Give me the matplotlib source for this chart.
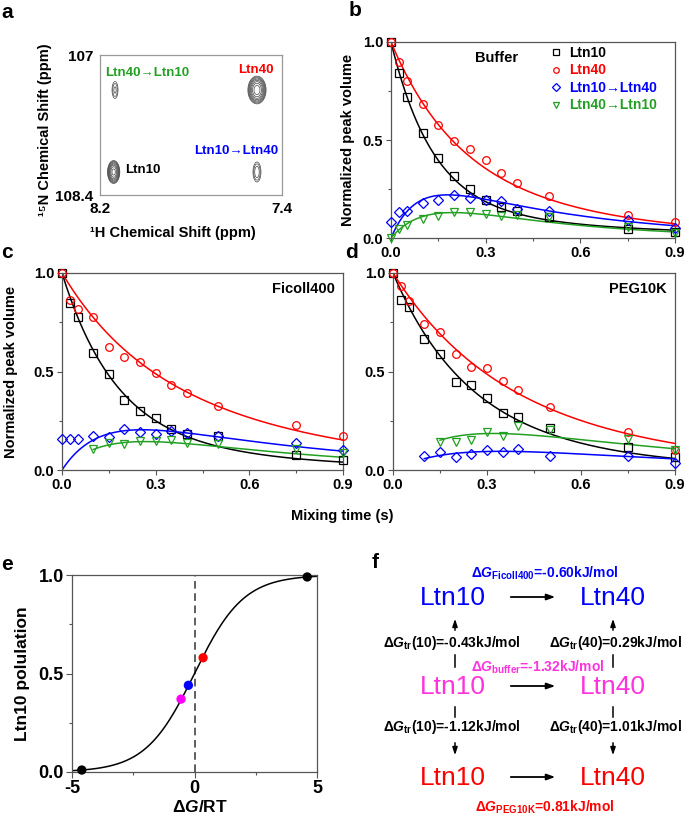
import numpy as np
import matplotlib
matplotlib.use('Agg')
import matplotlib.pyplot as plt
from matplotlib.lines import Line2D
from matplotlib.ticker import MultipleLocator

plt.rcParams['font.family'] = ['Liberation Sans', 'DejaVu Sans']
plt.rcParams['font.weight'] = 'bold'
plt.rcParams['mathtext.fontset'] = 'custom'
plt.rcParams['mathtext.rm'] = 'Liberation Sans:bold'
plt.rcParams['mathtext.it'] = 'Liberation Sans:italic:bold'
plt.rcParams['mathtext.bf'] = 'Liberation Sans:bold'
plt.rcParams['axes.edgecolor'] = '#555555'
plt.rcParams['axes.linewidth'] = 0.9

# ---- panel a: peak positions (1H ppm, 15N ppm), widths, heights
peak_h = [8.134, 7.51, 8.14, 7.51]
peak_n = [107.35, 107.35, 108.17, 108.17]
peak_sig_h = [0.0088, 0.0147, 0.0101, 0.0105]
peak_sig_n = [0.057, 0.051, 0.043, 0.060]
peak_amp = [0.30, 4.0, 3.5, 0.40]

# ---- panels b-d: mixing times and normalized peak volumes
t_mix = [0, 0.025, 0.05, 0.1, 0.15, 0.2, 0.25, 0.3, 0.35, 0.4, 0.5, 0.75, 0.9]

buf_ltn10 = [1.0, 0.84, 0.72, 0.537, 0.41, 0.317, 0.25, 0.195, 0.16, 0.14, 0.105, 0.046, 0.03]
buf_ltn40 = [1.0, 0.90, 0.80, 0.686, 0.576, 0.497, 0.454, 0.40, 0.334, 0.28, 0.212, 0.119, 0.08]
buf_10to40 = [0.08, 0.132, 0.14, 0.178, 0.195, 0.22, 0.203, 0.195, 0.19, 0.148, 0.14, 0.093, 0.05]
buf_40to10 = [0.0, 0.046, 0.066, 0.097, 0.11, 0.132, 0.135, 0.122, 0.114, 0.115, 0.107, 0.054, 0.025]

fic_ltn10 = [1.0, 0.847, 0.776, 0.593, 0.488, 0.353, 0.302, 0.266, 0.208, 0.181, 0.175, 0.076, 0.05]
fic_ltn40 = [1.0, 0.861, 0.817, 0.775, 0.624, 0.576, 0.547, 0.49, 0.432, 0.39, 0.325, 0.229, 0.173]
fic_10to40 = [0.155, 0.158, 0.155, 0.173, 0.17, 0.207, 0.195, 0.183, 0.2, 0.186, 0.173, 0.136, 0.10]
fic_40to10 = [0.107, 0.139, 0.132, 0.147, 0.147, 0.153, 0.139, 0.13, 0.105, 0.085]  # from 0.1 s

peg_ltn10 = [1.0, 0.865, 0.828, 0.667, 0.588, 0.446, 0.432, 0.367, 0.289, 0.267, 0.215, 0.118, 0.068]
peg_ltn40 = [1.0, 0.932, 0.86, 0.743, 0.703, 0.588, 0.524, 0.517, 0.451, 0.405, 0.321, 0.191, 0.101]
peg_10to40 = [0.073, 0.091, 0.068, 0.081, 0.101, 0.091, 0.106, 0.073, 0.073, 0.037]  # from 0.1 s
peg_40to10 = [0.144, 0.144, 0.152, 0.194, 0.172, 0.225, 0.201, 0.155, 0.101]  # from 0.15 s

# fitted exchange curves: auto = a*exp(-k1 t)+(1-a)*exp(-k2 t); cross = c*(exp(-k1 t)-exp(-k2 t))
buf_fit = [[0.85, 7.5, 1.5], [0.5, 5.5, 2.2], [0.378, 2.0, 12.0], [0.294, 2.5, 9.0]]
fic_fit = [[0.78, 6.0, 2.0], [0.28, 5.0, 1.75], [0.37, 1.5, 8.0], [0.30, 1.7, 7.0]]
peg_fit = [[0.5, 5.0, 2.5], [0.3, 4.0, 1.9], [0.227, 1.5, 5.0], [0.369, 1.35, 6.0]]
fit_start = {'buffer': [0, 0, 0, 0], 'ficoll': [0, 0, 0, 0.1], 'peg': [0, 0, 0.1, 0.15]}

# ---- panel e
dg_rt = [-4.6, -0.55, -0.25, 0.35, 4.6]
ltn10_pop = [0.01, 0.37, 0.44, 0.58, 0.99]
e_colors = ['black', '#ff00ff', '#0000ff', '#ff0000', 'black']

# ---- panel f
dg_main = ['-0.60', '-1.32', '0.81']
dg_tr10 = ['-0.43', '-1.12']
dg_tr40 = ['0.29', '1.01']

RED = '#ff0000'
BLUE = '#0000ff'
GREEN = '#22a022'
MAGENTA = '#ff33dd'

W, H = 685, 815
fig = plt.figure(figsize=(W / 100, H / 100), dpi=100)


def px_axes(l, t, r, b):
    return fig.add_axes([l / W, 1 - b / H, (r - l) / W, (b - t) / H])


def ftext(x, y, s, **kw):
    fig.text(x / W, 1 - y / H, s, **kw)


# panel letters
for letter, (x, y) in zip('abcdef', [(7, 12), (355, 11), (7, 252), (352, 252), (7, 565), (375, 563)]):
    ftext(x, y, letter, fontsize=15, fontweight='bold', ha='center', va='center')

# ---------------- panel a
ax = px_axes(100, 55, 282, 195)
hh = np.linspace(7.4, 8.2, 500)
nn = np.linspace(107, 108.4, 500)
HH, NN = np.meshgrid(hh, nn)
Z = np.zeros_like(HH)
for h0, n0, sh, sn, a0 in zip(peak_h, peak_n, peak_sig_h, peak_sig_n, peak_amp):
    Z += a0 * np.exp(-0.5 * ((HH - h0) / sh) ** 2 - 0.5 * ((NN - n0) / sn) ** 2)
levels = 0.1 * 1.6 ** np.arange(8)
ax.contour(HH, NN, Z, levels=levels, colors='#444444', linewidths=0.5)
ax.set_xlim(8.2, 7.4)
ax.set_ylim(108.4, 107)
ax.set_xticks([8.2, 7.4])
ax.set_xticklabels(['8.2', '7.4'])
ax.set_yticks([107, 108.4])
ax.set_yticklabels(['107', '108.4'])
ax.tick_params(length=0, labelsize=11, pad=5)
for sp in ax.spines.values():
    sp.set_color('#999999')
ftext(147, 73, 'Ltn40→Ltn10', color=GREEN, fontsize=9.5, ha='center', va='center')
ftext(256, 70, 'Ltn40', color=RED, fontsize=9.5, ha='center', va='center')
ftext(236, 151, 'Ltn10→Ltn40', color=BLUE, fontsize=9.5, ha='center', va='center')
ftext(125, 170, 'Ltn10', color='black', fontsize=9.5, ha='left', va='center')
ftext(45, 130, '¹⁵N Chemical Shift (ppm)', fontsize=10.5, rotation=90, ha='center', va='center')
ftext(173, 233, '¹H Chemical Shift (ppm)', fontsize=10.5, ha='center', va='center')


# ---------------- panels b-d
def exch_panel(ax, data, fits, starts, ylabel=True):
    t = np.array(t_mix)
    styles = [('s', 'black', 5.5), ('o', RED, 5.5), ('D', BLUE, 5.0), ('v', GREEN, 6.0)]
    for i, (vals, p, t0, (mk, col, ms)) in enumerate(zip(data, fits, starts, styles)):
        ft = np.linspace(t0, 0.9, 200)
        if i < 2:
            fy = p[0] * np.exp(-p[1] * ft) + (1 - p[0]) * np.exp(-p[2] * ft)
        else:
            fy = p[0] * (np.exp(-p[1] * ft) - np.exp(-p[2] * ft))
        ax.plot(ft, fy, color=col, lw=1.1, zorder=2)
        tt = t[len(t) - len(vals):]
        ax.plot(tt, vals, ls='none', marker=mk, ms=ms, mfc='none', mec=col, mew=0.9,
                clip_on=False, zorder=3)
    ax.set_xlim(0, 0.9)
    ax.set_ylim(0, 1.0)
    ax.xaxis.set_minor_locator(MultipleLocator(0.15))
    ax.yaxis.set_minor_locator(MultipleLocator(0.25))
    ax.set_xticks([0, 0.3, 0.6, 0.9])
    ax.set_xticklabels(['0.0', '0.3', '0.6', '0.9'])
    ax.set_yticks([0, 0.5, 1.0])
    ax.set_yticklabels(['0.0', '0.5', '1.0'])
    ax.tick_params(which='major', direction='out', length=3.5, width=0.8, labelsize=10.5, pad=2,
                   colors='#555555', labelcolor='black')
    ax.tick_params(which='minor', direction='out', length=2.5, width=0.8, colors='#555555')
    if ylabel:
        ax.set_ylabel('Normalized peak volume', fontsize=10.5, fontweight='bold')


axb = px_axes(391, 42, 675, 238)
exch_panel(axb, [buf_ltn10, buf_ltn40, buf_10to40, buf_40to10], buf_fit, fit_start['buffer'])
axb.yaxis.set_label_coords((355 - 391) / 284, 0.5)
handles = [Line2D([], [], ls='none', marker='s', ms=4, mfc='none', mec='black', mew=0.9),
           Line2D([], [], ls='none', marker='o', ms=4, mfc='none', mec=RED, mew=0.9),
           Line2D([], [], ls='none', marker='D', ms=4, mfc='none', mec=BLUE, mew=0.9),
           Line2D([], [], ls='none', marker='v', ms=4.5, mfc='none', mec=GREEN, mew=0.9)]
leg = axb.legend(handles, ['Ltn10', 'Ltn40', 'Ltn10→Ltn40', 'Ltn40→Ltn10'], loc='upper left',
                 bbox_to_anchor=((550 - 391) / 284, 1 - (46 - 42) / 196), frameon=False,
                 fontsize=10, handlelength=0.8, handletextpad=0.6, labelspacing=0.25,
                 borderpad=0, borderaxespad=0, labelcolor='markeredgecolor')
ftext(497, 58, 'Buffer', fontsize=10.5, ha='center', va='center')

axc = px_axes(62, 273, 343, 470)
exch_panel(axc, [fic_ltn10, fic_ltn40, fic_10to40, fic_40to10], fic_fit, fit_start['ficoll'])
axc.yaxis.set_label_coords((18 - 62) / 281, 0.5)
axc.text(0.97, 0.92, 'Ficoll400', transform=axc.transAxes, ha='right', va='center', fontsize=10.5)

axd = px_axes(393, 273, 675, 470)
exch_panel(axd, [peg_ltn10, peg_ltn40, peg_10to40, peg_40to10], peg_fit, fit_start['peg'], ylabel=False)
axd.text(0.97, 0.92, 'PEG10K', transform=axd.transAxes, ha='right', va='center', fontsize=10.5)

ftext(342, 516, 'Mixing time (s)', fontsize=10.5, ha='center', va='center')

# ---------------- panel e
axe = px_axes(72, 575, 317, 772)
xs = np.linspace(-5, 5, 300)
axe.plot(xs, 1 / (1 + np.exp(-xs)), color='black', lw=1.1, zorder=2)
axe.axvline(0, color='#333333', ls=(0, (5, 3)), lw=1.1, zorder=1)
axe.scatter(dg_rt, ltn10_pop, s=45, c=e_colors, zorder=3, clip_on=False, linewidths=0)
axe.set_xlim(-5, 5)
axe.set_ylim(0, 1.0)
axe.set_xticks([-5, 0, 5])
axe.set_xticklabels(['-5', '0', '5'])
axe.xaxis.set_minor_locator(MultipleLocator(2.5))
axe.set_yticks([0, 0.5, 1.0])
axe.set_yticklabels(['0.0', '0.5', '1.0'])
axe.yaxis.set_minor_locator(MultipleLocator(0.25))
axe.tick_params(which='major', direction='out', length=4, width=0.8, labelsize=13, pad=2,
                colors='#555555', labelcolor='black')
axe.tick_params(which='minor', direction='out', length=2.5, width=0.8, colors='#555555')
axe.set_ylabel('Ltn10 polulation', fontsize=12.5, fontweight='bold')
axe.yaxis.set_label_coords((30 - 72) / 245, 0.5)
ftext(200, 807, r'$\mathit{\Delta G}$/RT', fontsize=12.5, ha='center', va='center')

# ---------------- panel f (scheme, coordinates in figure pixels)
axf = px_axes(340, 555, 685, 815)
axf.set_xlim(340, 685)
axf.set_ylim(815, 555)
axf.axis('off')

rows_y = [598, 687, 778]
row_cols = [BLUE, MAGENTA, RED]
for y, col in zip(rows_y, row_cols):
    axf.text(453, y, 'Ltn10', color=col, fontsize=19, fontweight='normal', ha='center', va='center')
    axf.text(613, y, 'Ltn40', color=col, fontsize=19, fontweight='normal', ha='center', va='center')
    axf.annotate('', xy=(558, y - 1), xytext=(508, y - 1),
                 arrowprops=dict(arrowstyle='-|>,head_length=0.5,head_width=0.18', color='black', lw=1.3))

axf.text(545, 573, r'$\Delta G_{\rm Ficoll400}$=' + dg_main[0] + 'kJ/mol', color=BLUE,
         fontsize=10, ha='center', va='center')
axf.text(538, 667, r'$\Delta G_{\rm buffer}$=' + dg_main[1] + 'kJ/mol', color=MAGENTA,
         fontsize=10, ha='center', va='center')
axf.text(545, 807, r'$\Delta G_{\rm PEG10K}$=' + dg_main[2] + 'kJ/mol', color=RED,
         fontsize=10, ha='center', va='center')

for x, vals, name, lx in [(455, dg_tr10, '10', 452), (613, dg_tr40, '40', 615)]:
    # upward arrow to the Ficoll row
    axf.annotate('', xy=(x, 616), xytext=(x, 633),
                 arrowprops=dict(arrowstyle='-|>,head_length=0.45,head_width=0.15', color='black', lw=1.1))
    axf.plot([x, x], [655, 667], color='black', lw=1.1)
    axf.text(lx, 643, r'$\Delta G_{\rm tr}$(' + name + ')=' + vals[0] + 'kJ/mol',
             fontsize=10, ha='center', va='center')
    # downward arrow to the PEG row
    axf.plot([x, x], [707, 717], color='black', lw=1.1)
    axf.text(lx, 727, r'$\Delta G_{\rm tr}$(' + name + ')=' + vals[1] + 'kJ/mol',
             fontsize=10, ha='center', va='center')
    axf.annotate('', xy=(x, 758), xytext=(x, 740),
                 arrowprops=dict(arrowstyle='-|>,head_length=0.45,head_width=0.15', color='black', lw=1.1))

plt.savefig('out.png', dpi=100)
